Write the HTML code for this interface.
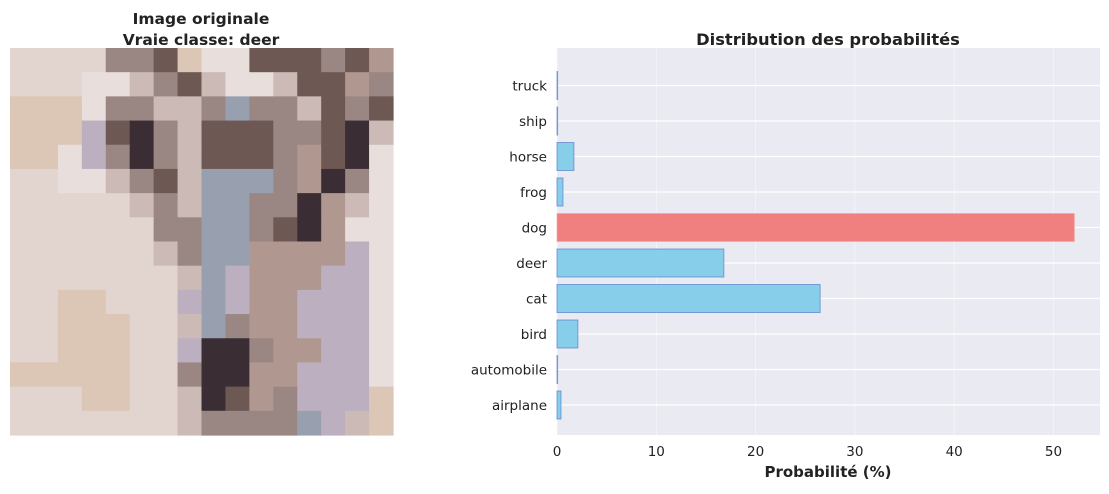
<!DOCTYPE html>
<html><head><meta charset="utf-8"><style>
body{margin:0;background:#fff;width:1109px;height:489px;overflow:hidden;font-family:"Liberation Sans","DejaVu Sans",sans-serif}
svg text{font-family:"DejaVu Sans","Liberation Sans",sans-serif}
</style></head><body>
<svg id="fig" width="1109" height="489">
<text x="201" y="24" text-anchor="middle" font-size="15.5" font-weight="bold" fill="#222">Image originale</text>
<text x="201" y="45" text-anchor="middle" font-size="15.5" font-weight="bold" fill="#222">Vraie classe: deer</text>
<g id="img"></g>
<text x="828" y="45" text-anchor="middle" font-size="16.3" font-weight="bold" fill="#222">Distribution des probabilités</text>
<g id="chart"></g>
<text x="828" y="477" text-anchor="middle" font-size="15" font-weight="bold" fill="#222">Probabilité (%)</text>
</svg>
<script>
const categories=["airplane","automobile","bird","cat","deer","dog","frog","horse","ship","truck"];
const probabilities=[0.4,0.05,2.1,26.5,16.8,52.1,0.6,1.7,0.05,0.05];
const xTicks=[0,10,20,30,40,50];
const predicted="dog";

const NS="http://www.w3.org/2000/svg";
function mk(t,a,p){const e=document.createElementNS(NS,t);for(const k in a)e.setAttribute(k,a[k]);p.appendChild(e);return e;}

const pal={b:"#e2d4ce",l:"#e8dedc",p:"#ccbab6",m:"#9a8682",d:"#6e5854",k:"#3a2e34",g:"#98a0b0",v:"#bcb0c0",r:"#b09890",t:"#dcc6b6"};
const rows=["bbbbmmdtlldddmdr","bbbllpmdpllpddrm","tttlmmppmgmmpdmd","tttvdkmpdddmmdkp","ttlvmkmpdddmrdkl","bbllpmdpgggmrkml","bbbbbpmpggmmkrpl","bbbbbbmmggmdkrll","bbbbbbpmggrrrrvl","bbbbbbbpgvrrrvvl","bbttbbbvgvrrvvvl","bbtttbbpgmrrvvvl","bbtttbbvkkmrrvvl","tttttbbmkkrrvvvl","bbbttbbpkdrmvvvt","bbbbbbbpmmmmgvpt"];
const img=document.getElementById('img');
const x0=10,y0=48,cw=383/16,ch=387/16;
rows.forEach((r,i)=>{for(let j=0;j<16;j++){const c=mk('rect',{x:x0+j*cw,y:y0+i*ch,width:cw+0.6,height:ch+0.6,fill:pal[r[j]]||pal.b},img);

}});

const g=document.getElementById('chart');
const L=557,R=1100,T=48,B=435;
const xs=v=>L+v*9.93;
const rowH=35.5, yc=i=>405-i*rowH;
const bg=mk('rect',{x:L,y:T,width:R-L,height:B-T,fill:"#eaeaf2"},g);


xTicks.forEach(t=>{const x=xs(t);
const ln=mk('line',{x1:x,x2:x,y1:T,y2:B,stroke:"#fff","stroke-width":0.6,"stroke-opacity":0.7},g);


const tx=mk('text',{x:x,y:456,"text-anchor":"middle","font-size":13.5,fill:"#222"},g);tx.textContent=t;

});
categories.forEach((c,i)=>{const y=yc(i);
const ln=mk('line',{x1:L,x2:R,y1:y,y2:y,stroke:"#fff","stroke-width":1.3},g);


const tx=mk('text',{x:547,y:y+5,"text-anchor":"end","font-size":13.5,fill:"#222"},g);tx.textContent=c;

});
categories.forEach((c,i)=>{const y=yc(i);const w=Math.max(xs(probabilities[i])-L,0.6);
const isP=c===predicted;
const b=mk('rect',{x:L,y:y-14,width:w,height:28,fill:isP?"#f08080":"#87ceeb",stroke:isP?"#f4a0a0":"#5a7fc8","stroke-width":1,"stroke-opacity":isP?0.6:0.7},g);

});
</script>
</body></html>
